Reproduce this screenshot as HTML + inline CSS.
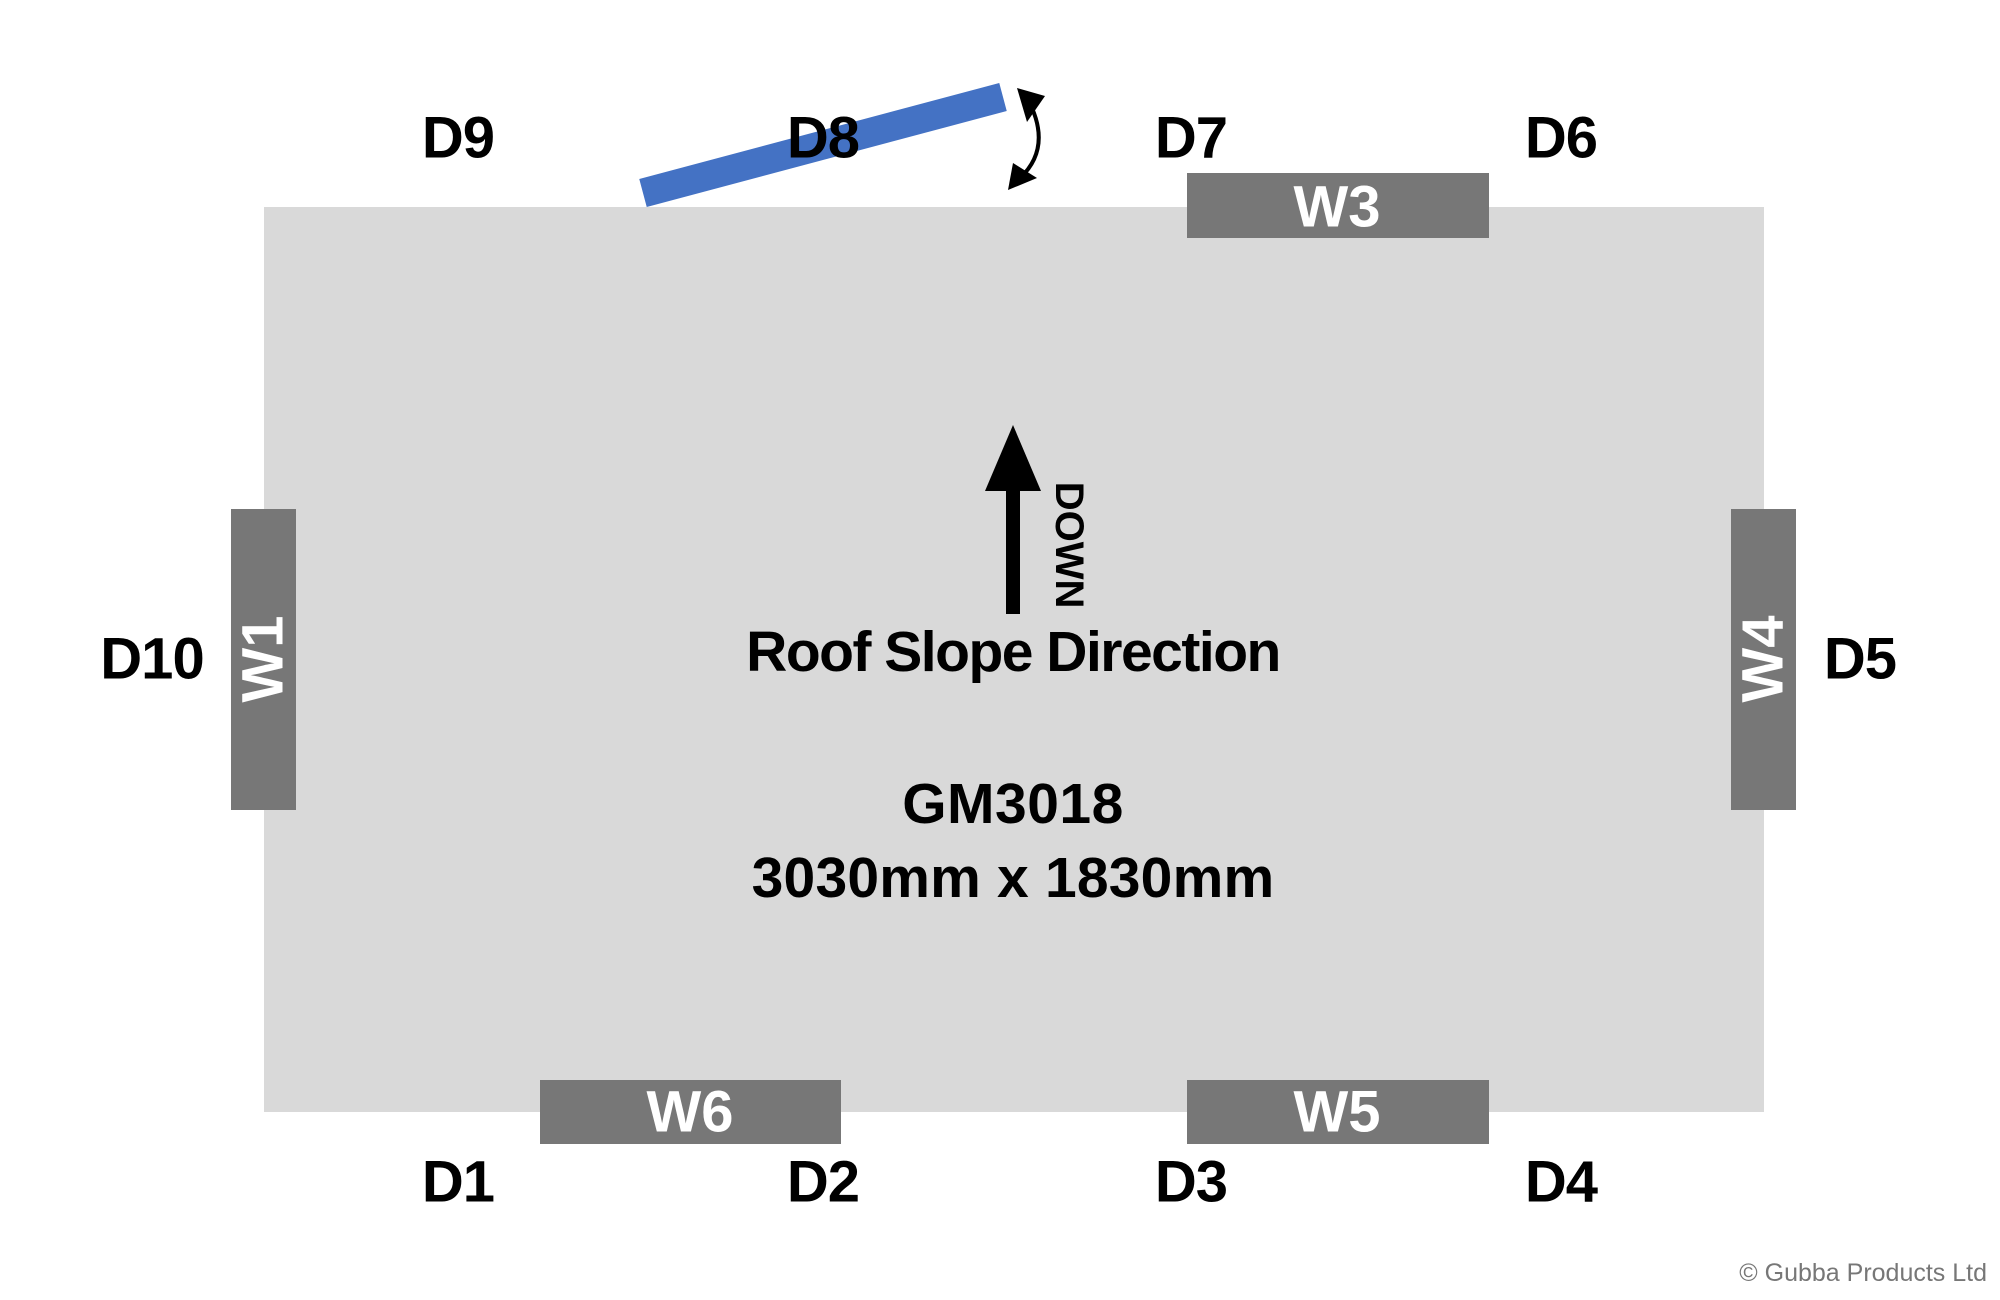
<!DOCTYPE html>
<html><head><meta charset="utf-8"><style>
html,body{margin:0;padding:0;background:#fff}
svg{display:block}
text{font-family:"Liberation Sans",Arial,sans-serif}
</style></head><body>
<svg width="2000" height="1300" viewBox="0 0 2000 1300" xmlns="http://www.w3.org/2000/svg">
<rect x="264" y="207" width="1500" height="905" fill="#d9d9d9"/>
<rect x="1187" y="173" width="302" height="65" fill="#777"/>
<rect x="540" y="1080" width="301" height="64" fill="#777"/>
<rect x="1187" y="1080" width="302" height="64" fill="#777"/>
<rect x="231" y="509" width="65" height="301" fill="#777"/>
<rect x="1731" y="509" width="65" height="301" fill="#777"/>
<line x1="643" y1="193" x2="1003" y2="97" stroke="#4472c4" stroke-width="29"/>
<path d="M1032 108 Q1050 150 1020 178" fill="none" stroke="#000" stroke-width="4"/>
<polygon points="1045,96 1017,88 1027,122" fill="#000"/>
<polygon points="1008,190 1013,163 1037,178" fill="#000"/>
<rect x="1006" y="485" width="14" height="129" fill="#000"/>
<polygon points="1013,425 985,491 1041,491" fill="#000"/>
<g font-weight="bold" font-size="58" fill="#000" text-anchor="middle" dominant-baseline="central" letter-spacing="-1">
<text x="458" y="138">D9</text><text x="823" y="138">D8</text><text x="1191" y="138">D7</text><text x="1561" y="138">D6</text>
<text x="458" y="1182">D1</text><text x="823" y="1182">D2</text><text x="1191" y="1182">D3</text><text x="1561" y="1182">D4</text>
<text x="152" y="659">D10</text><text x="1860" y="659">D5</text>
</g>
<g font-weight="bold" font-size="58" fill="#fff" text-anchor="middle" dominant-baseline="central">
<text x="1337" y="207">W3</text><text x="690" y="1112">W6</text><text x="1337" y="1112">W5</text>
<text transform="translate(263,659) rotate(-90)">W1</text>
<text transform="translate(1763,659) rotate(-90)">W4</text>
</g>
<text transform="translate(1069,545) rotate(90)" font-size="40" font-weight="bold" text-anchor="middle" dominant-baseline="central">DOWN</text>
<g fill="#000" text-anchor="middle" dominant-baseline="central" font-weight="bold">
<text x="1013" y="652" font-size="57" letter-spacing="-1.5">Roof Slope Direction</text>
<text x="1013" y="804" font-size="57" letter-spacing="0.5">GM3018</text>
<text x="1013" y="878" font-size="57" letter-spacing="0.2">3030mm x 1830mm</text>
</g>
<text x="1987" y="1273" font-size="25" fill="#777" text-anchor="end" dominant-baseline="central">© Gubba Products Ltd</text>
</svg>
</body></html>
